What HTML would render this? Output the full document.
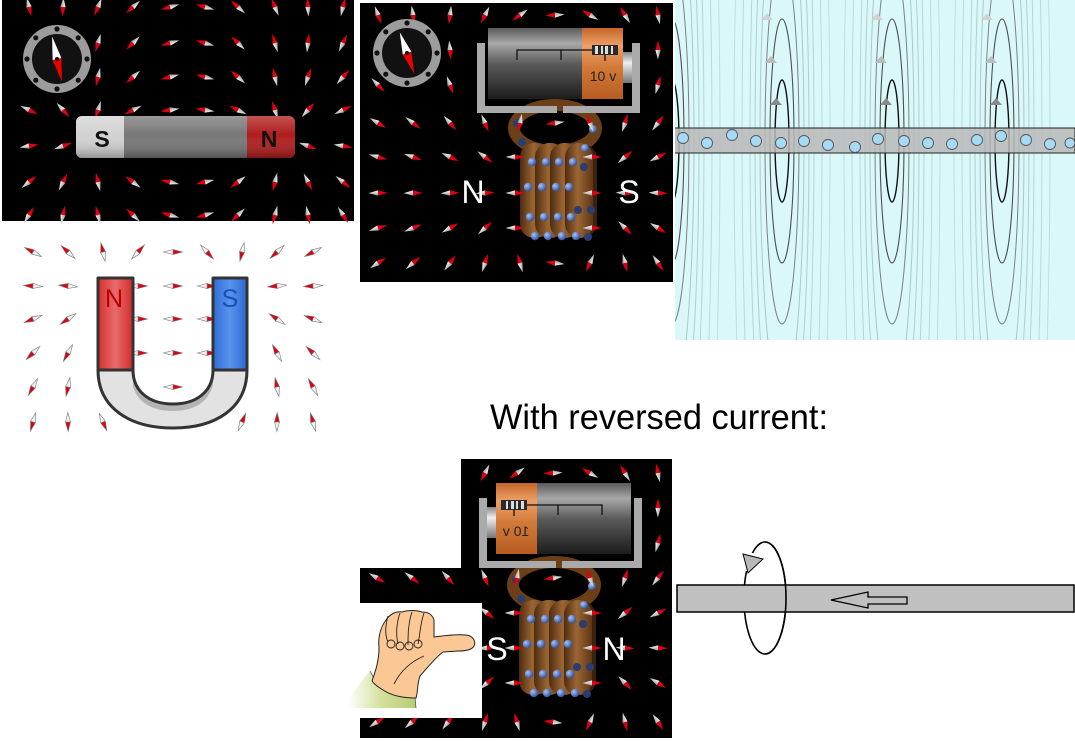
<!DOCTYPE html>
<html><head><meta charset="utf-8"><style>
html,body{margin:0;padding:0;background:#fff;width:1075px;height:742px;overflow:hidden}
svg{position:absolute;left:0;top:0;display:block}
text{font-family:"Liberation Sans",sans-serif}
</style></head><body>
<svg width="1075" height="742" viewBox="0 0 1075 742" xmlns="http://www.w3.org/2000/svg">
<defs>
<linearGradient id="wg" x1="0" y1="0" x2="0" y2="1"><stop offset="0" stop-color="#ffffff"/><stop offset="1" stop-color="#9a9a9a"/></linearGradient>
<linearGradient id="gg" x1="0" y1="0" x2="0" y2="1"><stop offset="0" stop-color="#5a5a5a"/><stop offset="0.22" stop-color="#a8a8a8"/><stop offset="0.5" stop-color="#5c5c5c"/><stop offset="1" stop-color="#1c1c1c"/></linearGradient>
<linearGradient id="og" x1="0" y1="0" x2="0" y2="1"><stop offset="0" stop-color="#c4662a"/><stop offset="0.25" stop-color="#eda066"/><stop offset="0.55" stop-color="#d27a3a"/><stop offset="1" stop-color="#b85c20"/></linearGradient>
<linearGradient id="tg" x1="0" y1="0" x2="0" y2="1"><stop offset="0" stop-color="#888"/><stop offset="0.35" stop-color="#eee"/><stop offset="1" stop-color="#777"/></linearGradient>
<linearGradient id="cg" x1="0" y1="0" x2="1" y2="0"><stop offset="0" stop-color="#4e2c10"/><stop offset="0.45" stop-color="#9c6634"/><stop offset="1" stop-color="#5e3614"/></linearGradient>
<radialGradient id="bd" cx="0.35" cy="0.35" r="0.7"><stop offset="0" stop-color="#a8c4f4"/><stop offset="1" stop-color="#2c4c9c"/></radialGradient>
<linearGradient id="shine" x1="0" y1="0" x2="0" y2="1"><stop offset="0" stop-color="#fff" stop-opacity="0.25"/><stop offset="0.45" stop-color="#fff" stop-opacity="0"/><stop offset="1" stop-color="#000" stop-opacity="0.3"/></linearGradient>
<linearGradient id="redarm" x1="0" y1="0" x2="1" y2="0"><stop offset="0" stop-color="#d83030"/><stop offset="0.5" stop-color="#e86a6a"/><stop offset="1" stop-color="#d42a2a"/></linearGradient>
<linearGradient id="bluearm" x1="0" y1="0" x2="1" y2="0"><stop offset="0" stop-color="#2f6fd8"/><stop offset="0.5" stop-color="#5a92ec"/><stop offset="1" stop-color="#2c6ad4"/></linearGradient>
<linearGradient id="slv" x1="0" y1="0" x2="1" y2="0"><stop offset="0" stop-color="#ffffff"/><stop offset="0.5" stop-color="#d2e09a"/><stop offset="1" stop-color="#b8cc70"/></linearGradient>
<clipPath id="cc"><rect x="675" y="0" width="400" height="340"/></clipPath>

<g id="nd"><polygon points="0,-2.6 9.5,0 0,2.6" fill="#e00010"/><polygon points="0,-2.6 -9.5,0 0,2.6" fill="url(#wg)"/></g>
<g id="nl"><polygon points="0,-2.5 9.5,0 0,2.5" fill="#e00010" stroke="#777" stroke-width="0.6"/><polygon points="0,-2.5 -9.5,0 0,2.5" fill="#f2f2f2" stroke="#777" stroke-width="0.6"/></g>

<g id="comp">
 <circle r="34" fill="#9c9c9c"/>
 <circle r="25" fill="#111"/>
 <g fill="#111">
  <circle cx="30" cy="0" r="2.6"/><circle cx="21.2" cy="21.2" r="2.6"/><circle cx="0" cy="30" r="2.6"/><circle cx="-21.2" cy="21.2" r="2.6"/>
  <circle cx="-30" cy="0" r="2.6"/><circle cx="-21.2" cy="-21.2" r="2.6"/><circle cx="0" cy="-30" r="2.6"/><circle cx="21.2" cy="-21.2" r="2.6"/>
 </g>
</g>

<g id="coil">
 <ellipse cx="555" cy="128" rx="41" ry="23" fill="none" stroke="#6b4019" stroke-width="12"/>
 <rect x="566" y="144" width="31" height="94" rx="15" fill="#3a230e"/>
 <rect x="520" y="143" width="30" height="95" rx="14" fill="url(#cg)"/>
 <rect x="535" y="143" width="30" height="95" rx="14" fill="url(#cg)"/>
 <rect x="550" y="143" width="30" height="95" rx="14" fill="url(#cg)"/>
 <rect x="565" y="143" width="28" height="95" rx="14" fill="url(#cg)"/>
 <g fill="#2a3c70">
  <circle cx="517" cy="123" r="4"/><circle cx="522" cy="142" r="4"/><circle cx="584" cy="167" r="4"/>
  <circle cx="591" cy="210" r="4"/><circle cx="578" cy="210" r="4"/><circle cx="588" cy="237" r="4"/>
 </g>
 <g fill="url(#bd)">
  <circle cx="593" cy="129" r="4"/><circle cx="585" cy="148" r="4"/>
  <circle cx="532" cy="162" r="4.2"/><circle cx="546" cy="162" r="4.2"/><circle cx="559" cy="162" r="4.2"/><circle cx="573" cy="162" r="4.2"/>
  <circle cx="528" cy="187" r="4.2"/><circle cx="542" cy="187" r="4.2"/><circle cx="556" cy="187" r="4.2"/><circle cx="569" cy="187" r="4.2"/>
  <circle cx="530" cy="217" r="4.2"/><circle cx="544" cy="217" r="4.2"/><circle cx="558" cy="217" r="4.2"/><circle cx="571" cy="217" r="4.2"/>
  <circle cx="535" cy="236" r="4.2"/><circle cx="548" cy="236" r="4.2"/><circle cx="562" cy="236" r="4.2"/><circle cx="576" cy="236" r="4.2"/>
 </g>
</g>

<g id="batt">
 <rect x="477" y="43" width="8" height="70" fill="#aaaaaa"/>
 <rect x="632" y="43" width="8" height="70" fill="#aaaaaa"/>
 <rect x="477" y="106" width="80" height="7" fill="#aaaaaa"/>
 <rect x="563" y="106" width="77" height="7" fill="#aaaaaa"/>
 <rect x="623" y="52" width="9" height="31" fill="url(#tg)"/>
 <rect x="488" y="28" width="94" height="71" fill="url(#gg)"/>
 <rect x="582" y="28" width="41" height="71" fill="url(#og)"/>
 <path d="M517,60 V50 H592 M561,50 V60 M605,55 V61" stroke="#111" stroke-width="1.3" fill="none"/>
 <rect x="592" y="45" width="26" height="10" fill="#2a2a2a"/>
 <g fill="#dddddd"><rect x="595" y="46" width="3" height="8"/><rect x="601" y="46" width="2" height="8"/><rect x="605" y="46" width="3" height="8"/><rect x="611" y="46" width="2" height="8"/></g>
 <text x="603" y="81" font-size="14" text-anchor="middle" fill="#222">10 v</text>
</g>

<g id="fl" fill="none">
 <ellipse rx="7" ry="61" stroke="#111" stroke-width="1.4"/>
 <ellipse rx="12" ry="122" stroke="#333" stroke-width="1.1" opacity="0.85"/>
 <ellipse rx="17" ry="183" stroke="#444" stroke-width="1" opacity="0.65"/>
 <ellipse rx="22" ry="260" stroke="#6f8f8f" stroke-width="1" opacity="0.45"/>
 <ellipse rx="27" ry="330" stroke="#6f8f8f" stroke-width="1" opacity="0.4"/>
 <ellipse rx="32" ry="420" stroke="#6f8f8f" stroke-width="1" opacity="0.35"/>
 <ellipse rx="40" ry="520" stroke="#6f8f8f" stroke-width="1" opacity="0.3"/>
 <ellipse rx="48" ry="595" stroke="#6f8f8f" stroke-width="1" opacity="0.25"/>
 <polygon points="-21,-121 -15,-128 -9,-121" fill="#d2d2d2" stroke="none"/>
 <polygon points="-17,-78 -11,-85 -5,-78" fill="#bcbcbc" stroke="none"/>
 <polygon points="-12,-36 -6,-43 0,-36" fill="#8a8a8a" stroke="none"/>
</g>
</defs>

<!-- Panel A: bar magnet -->
<rect x="2" y="0" width="352" height="221" fill="#000"/>
<g>
<use href="#nd" transform="translate(29 7) rotate(76.4)"/><use href="#nd" transform="translate(63 7) rotate(93)"/><use href="#nd" transform="translate(98 7) rotate(112.3)"/><use href="#nd" transform="translate(133 7) rotate(138.1)"/><use href="#nd" transform="translate(170 7) rotate(164.3)"/><use href="#nd" transform="translate(205 7) rotate(-164.3)"/><use href="#nd" transform="translate(238 7) rotate(-138.1)"/><use href="#nd" transform="translate(275 7) rotate(-112.3)"/><use href="#nd" transform="translate(308 7) rotate(-93)"/><use href="#nd" transform="translate(343 7) rotate(-76.4)"/>
<use href="#nd" transform="translate(98 43) rotate(106.6)"/><use href="#nd" transform="translate(133 43) rotate(135.7)"/><use href="#nd" transform="translate(170 43) rotate(163.6)"/><use href="#nd" transform="translate(205 43) rotate(-163.6)"/><use href="#nd" transform="translate(238 43) rotate(-135.7)"/><use href="#nd" transform="translate(275 43) rotate(-106.6)"/><use href="#nd" transform="translate(308 43) rotate(-83.5)"/><use href="#nd" transform="translate(343 43) rotate(-64.2)"/>
<use href="#nd" transform="translate(98 77) rotate(103.1)"/><use href="#nd" transform="translate(133 77) rotate(138.3)"/><use href="#nd" transform="translate(170 77) rotate(165.2)"/><use href="#nd" transform="translate(205 77) rotate(-165.2)"/><use href="#nd" transform="translate(238 77) rotate(-138.3)"/><use href="#nd" transform="translate(275 77) rotate(-103.1)"/><use href="#nd" transform="translate(308 77) rotate(-71.3)"/><use href="#nd" transform="translate(343 77) rotate(-48.5)"/>
<use href="#nd" transform="translate(29 110) rotate(25.5)"/><use href="#nd" transform="translate(63 110) rotate(48.3)"/><use href="#nd" transform="translate(98 110) rotate(107.7)"/><use href="#nd" transform="translate(133 110) rotate(153.3)"/><use href="#nd" transform="translate(170 110) rotate(171.4)"/><use href="#nd" transform="translate(205 110) rotate(-171.4)"/><use href="#nd" transform="translate(238 110) rotate(-153.3)"/><use href="#nd" transform="translate(275 110) rotate(-107.7)"/><use href="#nd" transform="translate(308 110) rotate(-48.3)"/><use href="#nd" transform="translate(343 110) rotate(-25.5)"/>
<use href="#nd" transform="translate(29 146) rotate(-8.9)"/><use href="#nd" transform="translate(63 146) rotate(-20.1)"/><use href="#nd" transform="translate(308 146) rotate(20.1)"/><use href="#nd" transform="translate(343 146) rotate(8.9)"/>
<use href="#nd" transform="translate(29 182) rotate(-39.2)"/><use href="#nd" transform="translate(63 182) rotate(-63.3)"/><use href="#nd" transform="translate(98 182) rotate(-103.4)"/><use href="#nd" transform="translate(133 182) rotate(-142.9)"/><use href="#nd" transform="translate(170 182) rotate(-167.3)"/><use href="#nd" transform="translate(205 182) rotate(167.3)"/><use href="#nd" transform="translate(238 182) rotate(142.9)"/><use href="#nd" transform="translate(275 182) rotate(103.4)"/><use href="#nd" transform="translate(308 182) rotate(63.3)"/><use href="#nd" transform="translate(343 182) rotate(39.2)"/>
<use href="#nd" transform="translate(29 215) rotate(-57.6)"/><use href="#nd" transform="translate(63 215) rotate(-78.4)"/><use href="#nd" transform="translate(98 215) rotate(-104.5)"/><use href="#nd" transform="translate(133 215) rotate(-136)"/><use href="#nd" transform="translate(170 215) rotate(-163.9)"/><use href="#nd" transform="translate(205 215) rotate(163.9)"/><use href="#nd" transform="translate(238 215) rotate(136)"/><use href="#nd" transform="translate(275 215) rotate(104.5)"/><use href="#nd" transform="translate(308 215) rotate(78.4)"/><use href="#nd" transform="translate(343 215) rotate(57.6)"/>
</g>
<rect x="76" y="116" width="219" height="42" rx="6" fill="#777"/>
<path d="M82,116 H124 V158 H82 A6,6 0 0 1 76,152 V122 A6,6 0 0 1 82,116 Z" fill="#d2d2d2"/>
<path d="M247,116 H289 A6,6 0 0 1 295,122 V152 A6,6 0 0 1 289,158 H247 Z" fill="#b01c1c"/>
<rect x="76" y="116" width="219" height="42" rx="6" fill="url(#shine)"/>
<text x="102" y="147" font-size="23" font-weight="bold" text-anchor="middle" fill="#111">S</text>
<text x="269" y="147" font-size="23" font-weight="bold" text-anchor="middle" fill="#111">N</text>
<g transform="translate(57,59)">
 <use href="#comp"/>
 <g transform="rotate(77.7)"><polygon points="0,-4.5 23,0 0,4.5" fill="#ee0000"/><polygon points="0,-4.5 -23,0 0,4.5" fill="#ffffff"/></g>
 <circle r="2" fill="#111"/>
</g>

<!-- Panel B: coil -->
<rect x="360" y="3" width="313" height="279" fill="#000"/>
<use href="#coil"/>
<g>
<use href="#nd" transform="translate(378 15) rotate(70.1)"/><use href="#nd" transform="translate(413 15) rotate(81.5)"/><use href="#nd" transform="translate(450 15) rotate(97.4)"/><use href="#nd" transform="translate(485 15) rotate(117.5)"/><use href="#nd" transform="translate(520 15) rotate(144.3)"/><use href="#nd" transform="translate(555 15) rotate(177)"/><use href="#nd" transform="translate(590 15) rotate(-149.5)"/><use href="#nd" transform="translate(625 15) rotate(-121.6)"/><use href="#nd" transform="translate(658 15) rotate(-101.5)"/>
<use href="#nd" transform="translate(450 50) rotate(85.3)"/><use href="#nd" transform="translate(658 50) rotate(-89.5)"/>
<use href="#nd" transform="translate(378 85) rotate(46.5)"/><use href="#nd" transform="translate(450 85) rotate(70.1)"/><use href="#nd" transform="translate(658 85) rotate(-74.1)"/>
<use href="#nd" transform="translate(378 123) rotate(31)"/><use href="#nd" transform="translate(413 123) rotate(37.8)"/><use href="#nd" transform="translate(450 123) rotate(49)"/><use href="#nd" transform="translate(485 123) rotate(67.2)"/><use href="#nd" transform="translate(520 123) rotate(101.7)"/><use href="#nd" transform="translate(555 123) rotate(172.3)"/><use href="#nd" transform="translate(590 123) rotate(-110.8)"/><use href="#nd" transform="translate(625 123) rotate(-71.6)"/><use href="#nd" transform="translate(658 123) rotate(-52.4)"/>
<use href="#nd" transform="translate(378 157) rotate(15.6)"/><use href="#nd" transform="translate(413 157) rotate(19.3)"/><use href="#nd" transform="translate(450 157) rotate(25.6)"/><use href="#nd" transform="translate(485 157) rotate(37.1)"/><use href="#nd" transform="translate(515 157) rotate(0)"/><use href="#nd" transform="translate(592 157) rotate(0)"/><use href="#nd" transform="translate(625 157) rotate(-40.1)"/><use href="#nd" transform="translate(658 157) rotate(-27.6)"/>
<use href="#nd" transform="translate(378 193) rotate(-1)"/><use href="#nd" transform="translate(413 193) rotate(-1)"/><use href="#nd" transform="translate(450 193) rotate(-2)"/><use href="#nd" transform="translate(485 193) rotate(-3)"/><use href="#nd" transform="translate(515 193) rotate(0)"/><use href="#nd" transform="translate(592 193) rotate(0)"/><use href="#nd" transform="translate(625 193) rotate(3)"/><use href="#nd" transform="translate(658 193) rotate(2)"/>
<use href="#nd" transform="translate(378 228) rotate(-17.9)"/><use href="#nd" transform="translate(413 228) rotate(-22.2)"/><use href="#nd" transform="translate(450 228) rotate(-29.4)"/><use href="#nd" transform="translate(485 228) rotate(-42.1)"/><use href="#nd" transform="translate(515 228) rotate(0)"/><use href="#nd" transform="translate(592 228) rotate(0)"/><use href="#nd" transform="translate(625 228) rotate(45.4)"/><use href="#nd" transform="translate(658 228) rotate(31.6)"/>
<use href="#nd" transform="translate(378 263) rotate(-33.5)"/><use href="#nd" transform="translate(413 263) rotate(-40.9)"/><use href="#nd" transform="translate(450 263) rotate(-52.8)"/><use href="#nd" transform="translate(485 263) rotate(-71.6)"/><use href="#nd" transform="translate(520 263) rotate(-106.3)"/><use href="#nd" transform="translate(555 263) rotate(-173)"/><use href="#nd" transform="translate(590 263) rotate(115.2)"/><use href="#nd" transform="translate(625 263) rotate(76)"/><use href="#nd" transform="translate(658 263) rotate(56.2)"/>
</g>
<use href="#batt"/>
<g transform="translate(407,53)">
 <use href="#comp"/>
 <g transform="rotate(70.7)"><polygon points="0,-4.5 22,0 0,4.5" fill="#ee0000"/><polygon points="0,-4.5 -22,0 0,4.5" fill="#ffffff"/></g>
 <circle r="2" fill="#111"/>
</g>
<text x="473" y="203" font-size="32" text-anchor="middle" fill="#fff">N</text>
<text x="629" y="203" font-size="32" text-anchor="middle" fill="#fff">S</text>

<!-- Panel C: wire field -->
<g clip-path="url(#cc)">
 <rect x="675" y="0" width="400" height="340" fill="#daf8f8"/>
 <use href="#fl" transform="translate(672,141)"/>
 <use href="#fl" transform="translate(782,141)"/>
 <use href="#fl" transform="translate(892,141)"/>
 <use href="#fl" transform="translate(1002,141)"/>
 <rect x="674" y="128" width="401" height="25" fill="#b8b8b8" fill-opacity="0.85" stroke="#222" stroke-width="1"/>
 <g fill="#a6dbf8" stroke="#555" stroke-width="0.9">
  <circle cx="683" cy="138" r="5.5"/><circle cx="707" cy="143" r="5.5"/><circle cx="732" cy="135" r="5.5"/><circle cx="756" cy="141" r="5.5"/>
  <circle cx="781" cy="143" r="5.5"/><circle cx="804" cy="141" r="5.5"/><circle cx="828" cy="145" r="5.5"/><circle cx="855" cy="147" r="5.5"/>
  <circle cx="878" cy="139" r="5.5"/><circle cx="904" cy="141" r="5.5"/><circle cx="928" cy="143" r="5.5"/><circle cx="952" cy="144" r="5.5"/>
  <circle cx="977" cy="140" r="5.5"/><circle cx="1001" cy="136" r="5.5"/><circle cx="1026" cy="140" r="5.5"/><circle cx="1050" cy="144" r="5.5"/>
  <circle cx="1070" cy="143" r="5"/>
 </g>
</g>

<!-- Panel D: U magnet -->
<g>
<use href="#nl" transform="translate(33 252) rotate(-151.7)"/><use href="#nl" transform="translate(68 252) rotate(-137.3)"/><use href="#nl" transform="translate(103 252) rotate(-103)"/><use href="#nl" transform="translate(138 252) rotate(-48)"/><use href="#nl" transform="translate(173 252) rotate(0)"/><use href="#nl" transform="translate(207 252) rotate(48)"/><use href="#nl" transform="translate(242 252) rotate(103)"/><use href="#nl" transform="translate(277 252) rotate(137.3)"/><use href="#nl" transform="translate(313 252) rotate(151.7)"/>
<use href="#nl" transform="translate(33 286) rotate(-176.9)"/><use href="#nl" transform="translate(68 286) rotate(-174.8)"/><use href="#nl" transform="translate(138 286) rotate(0)"/><use href="#nl" transform="translate(173 286) rotate(0)"/><use href="#nl" transform="translate(207 286) rotate(0)"/><use href="#nl" transform="translate(277 286) rotate(174.8)"/><use href="#nl" transform="translate(313 286) rotate(176.9)"/>
<use href="#nl" transform="translate(33 319) rotate(157.9)"/><use href="#nl" transform="translate(68 319) rotate(145.7)"/><use href="#nl" transform="translate(138 319) rotate(0)"/><use href="#nl" transform="translate(173 319) rotate(0)"/><use href="#nl" transform="translate(207 319) rotate(0)"/><use href="#nl" transform="translate(277 319) rotate(-145.7)"/><use href="#nl" transform="translate(313 319) rotate(-157.9)"/>
<use href="#nl" transform="translate(33 353) rotate(136.1)"/><use href="#nl" transform="translate(68 353) rotate(119.2)"/><use href="#nl" transform="translate(138 353) rotate(0)"/><use href="#nl" transform="translate(173 353) rotate(0)"/><use href="#nl" transform="translate(207 353) rotate(0)"/><use href="#nl" transform="translate(277 353) rotate(-119.2)"/><use href="#nl" transform="translate(313 353) rotate(-136.1)"/>
<use href="#nl" transform="translate(33 387) rotate(119.3)"/><use href="#nl" transform="translate(68 387) rotate(102)"/><use href="#nl" transform="translate(173 387) rotate(0)"/><use href="#nl" transform="translate(277 387) rotate(-102)"/><use href="#nl" transform="translate(313 387) rotate(-119.3)"/>
<use href="#nl" transform="translate(33 422) rotate(105.9)"/><use href="#nl" transform="translate(68 422) rotate(89.2)"/><use href="#nl" transform="translate(103 422) rotate(66.3)"/><use href="#nl" transform="translate(242 422) rotate(-66.3)"/><use href="#nl" transform="translate(277 422) rotate(-89.2)"/><use href="#nl" transform="translate(313 422) rotate(-105.9)"/>
</g>
<path d="M98,278 H133 V370 C133,392 150,404 173,404 C196,404 213,392 213,370 V278 H247 V370 C247,408 216,428 173,428 C130,428 98,408 98,370 Z" fill="#e2e2e2"/>
<path d="M133,370 C133,392 150,404 173,404 C196,404 213,392 213,370 L213,384 C209,402 194,411 173,411 C152,411 137,402 133,386 Z" fill="#b4b4b4"/>
<rect x="98" y="278" width="35" height="92" fill="url(#redarm)"/>
<rect x="213" y="278" width="34" height="92" fill="url(#bluearm)"/>
<path d="M98,278 H133 V370 C133,392 150,404 173,404 C196,404 213,392 213,370 V278 H247 V370 C247,408 216,428 173,428 C130,428 98,408 98,370 Z M98,370 H133 M213,370 H247" fill="none" stroke="#333" stroke-width="3" stroke-linejoin="round"/>
<text x="114" y="307" font-size="25" text-anchor="middle" fill="#b80000">N</text>
<text x="230" y="307" font-size="25" text-anchor="middle" fill="#1650b8">S</text>

<!-- Caption -->
<text x="490" y="429" font-size="35" fill="#000" textLength="338" lengthAdjust="spacingAndGlyphs">With reversed current:</text>

<!-- Panel E: reversed coil -->
<rect x="461" y="459" width="211" height="279" fill="#000"/>
<rect x="360" y="568" width="312" height="170" fill="#000"/>
<use href="#coil" transform="translate(-1,457)"/>
<g>
<use href="#nd" transform="translate(485 473) rotate(117.5)"/><use href="#nd" transform="translate(517 473) rotate(144.3)"/><use href="#nd" transform="translate(553 473) rotate(177)"/><use href="#nd" transform="translate(590 473) rotate(-149.5)"/><use href="#nd" transform="translate(625 473) rotate(-121.6)"/><use href="#nd" transform="translate(658 473) rotate(-101.5)"/>
<use href="#nd" transform="translate(658 508) rotate(-89.5)"/><use href="#nd" transform="translate(658 543) rotate(-74.1)"/>
<use href="#nd" transform="translate(377 578) rotate(31)"/><use href="#nd" transform="translate(412 578) rotate(37.8)"/><use href="#nd" transform="translate(448 578) rotate(49)"/><use href="#nd" transform="translate(485 578) rotate(67.2)"/><use href="#nd" transform="translate(517 578) rotate(101.7)"/><use href="#nd" transform="translate(553 578) rotate(172.3)"/><use href="#nd" transform="translate(590 578) rotate(-110.8)"/><use href="#nd" transform="translate(625 578) rotate(-71.6)"/><use href="#nd" transform="translate(658 578) rotate(-52.4)"/>
<use href="#nd" transform="translate(487 613) rotate(37.1)"/><use href="#nd" transform="translate(514 613) rotate(0)"/><use href="#nd" transform="translate(592 613) rotate(0)"/><use href="#nd" transform="translate(625 613) rotate(-40.1)"/><use href="#nd" transform="translate(658 613) rotate(-27.6)"/>
<use href="#nd" transform="translate(487 648) rotate(-3)"/><use href="#nd" transform="translate(514 648) rotate(0)"/><use href="#nd" transform="translate(592 648) rotate(0)"/><use href="#nd" transform="translate(625 648) rotate(3)"/><use href="#nd" transform="translate(658 648) rotate(2)"/>
<use href="#nd" transform="translate(487 683) rotate(-42.1)"/><use href="#nd" transform="translate(514 683) rotate(0)"/><use href="#nd" transform="translate(592 683) rotate(0)"/><use href="#nd" transform="translate(625 683) rotate(45.4)"/><use href="#nd" transform="translate(658 683) rotate(31.6)"/>
<use href="#nd" transform="translate(377 722) rotate(-33.5)"/><use href="#nd" transform="translate(412 722) rotate(-40.9)"/><use href="#nd" transform="translate(448 722) rotate(-52.8)"/><use href="#nd" transform="translate(485 722) rotate(-71.6)"/><use href="#nd" transform="translate(517 722) rotate(-106.3)"/><use href="#nd" transform="translate(553 722) rotate(-173)"/><use href="#nd" transform="translate(590 722) rotate(115.2)"/><use href="#nd" transform="translate(625 722) rotate(76)"/><use href="#nd" transform="translate(658 722) rotate(56.2)"/>
</g>
<rect x="345" y="603" width="137" height="115" fill="#fff"/>
<path d="M348,708 L348,700 C355,690 362,680 370,671 C374,680 380,688 392,694 C400,697 408,698 415,697 L416,708 Z" fill="url(#slv)"/>
<path d="M370,671 C374,680 380,688 392,694 C400,697 408,698 415,697 L416,708" fill="none" stroke="#555" stroke-width="0.8"/>
<path d="M372,681 C376,670 379,660 379,648 C378,638 380,628 386,620 C390,614 396,611 402,612 C408,610 416,610 422,612 C428,612 432,614 434,620 L434,637 C442,636 455,634 466,635 C474,636 476,642 474,646 C472,650 466,651 458,651 L443,652 C436,657 428,667 420,676 C417,684 418,692 416,698 C405,698 392,696 383,690 C378,687 374,684 372,681 Z" fill="#fbc794" stroke="#222" stroke-width="1"/>
<g fill="none" stroke="#222" stroke-width="0.9">
 <path d="M388,616 C385,626 385,636 388,642"/>
 <path d="M400,613 C396,624 396,636 398,644"/>
 <path d="M412,612 C408,624 408,636 408,645"/>
 <path d="M424,613 C420,624 420,636 418,644"/>
 <circle cx="391" cy="644" r="4"/><circle cx="400" cy="646" r="4"/><circle cx="409" cy="646" r="4"/><circle cx="418" cy="644" r="4"/>
 <path d="M394,684 C400,672 410,662 424,656"/>
</g>
<use href="#batt" transform="translate(1119,455) scale(-1,1)"/>
<text x="497" y="660" font-size="32" text-anchor="middle" fill="#fff">S</text>
<text x="614" y="660" font-size="32" text-anchor="middle" fill="#fff">N</text>

<!-- Panel F: straight wire with loop -->
<ellipse cx="765" cy="598" rx="21" ry="56" fill="none" stroke="#000" stroke-width="1.6"/>
<rect x="677" y="585" width="397" height="27" fill="#c0c0c0" stroke="#000" stroke-width="1.5"/>
<path d="M765,542 A21,56 0 0 1 765,654" fill="none" stroke="#000" stroke-width="1.6"/>
<rect x="742" y="553" width="14" height="18" fill="#fff"/>
<polygon points="743,554 763,559 748,573" fill="#b8b8b8" stroke="#000" stroke-width="1"/>
<polygon points="831,600 868,592 868,597 907,597 907,604 868,604 868,608" fill="#c0c0c0" stroke="#000" stroke-width="1.3"/>
</svg>
</body></html>
